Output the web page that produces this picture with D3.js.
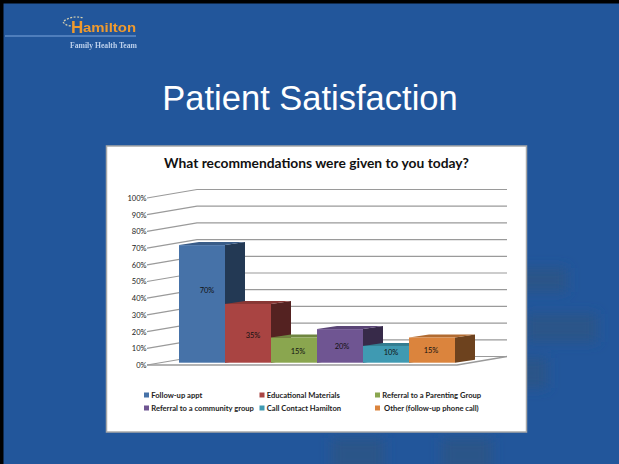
<!DOCTYPE html>
<meta charset="utf-8">
<head>
  <!-- Load d3.js -->
  <script src="https://d3js.org/d3.v7.min.js"></script>
  <style>
    html, body { margin: 0; padding: 0; background: #22569b; }
    svg { display: block; }
  </style>
</head>
<body>
<div id="my_dataviz"></div>
<script>
// chart data
var categories = ["Follow-up appt", "Educational Materials", "Referral to a Parenting Group",
                  "Referral to a community group", "Call Contact Hamilton", "Other (follow-up phone call)"];
var values = [70, 35, 15, 20, 10, 15];
var tickValues = [0, 10, 20, 30, 40, 50, 60, 70, 80, 90, 100];
var colors = ["#4672a8", "#a94442", "#8aa64f", "#6f5592", "#3f9ab2", "#db843d"];
var chartTitle = "What recommendations were given to you today?";
var slideTitle = "Patient Satisfaction";

var width = 619, height = 464;

var svg = d3.select("#my_dataviz")
  .append("svg")
    .attr("width", width)
    .attr("height", height);

var defs = svg.append("defs");
defs.append("filter").attr("id", "soft").append("feGaussianBlur").attr("stdDeviation", 6);
defs.append("filter").attr("id", "logoBlur").append("feGaussianBlur").attr("stdDeviation", 0.45);

// slide background
svg.append("rect").attr("width", width).attr("height", height).attr("fill", "#22569b");

// faint watermark behind the card
var wm = svg.append("g").attr("filter", "url(#soft)").attr("fill", "#2a5488");
wm.append("rect").attr("x", 515).attr("y", 268).attr("width", 52).attr("height", 24);
wm.append("rect").attr("x", 525).attr("y", 314).attr("width", 72).attr("height", 28);
wm.append("rect").attr("x", 515).attr("y", 358).attr("width", 32).attr("height", 30);
wm.append("rect").attr("x", 332).attr("y", 438).attr("width", 52).attr("height", 34);
wm.append("rect").attr("x", 442).attr("y", 438).attr("width", 50).attr("height", 34);

// black edge of the screenshot
svg.append("rect").attr("width", width).attr("height", 3.5).attr("fill", "#000");
svg.append("rect").attr("width", 3.5).attr("height", height).attr("fill", "#000");

// logo
var logo = svg.append("g").attr("filter", "url(#logoBlur)");
logo.append("line").attr("x1", 5).attr("x2", 136).attr("y1", 36).attr("y2", 36)
  .attr("stroke", "#7ea6dd").attr("stroke-width", 1.2);
logo.append("text").attr("x", 71).attr("y", 33)
  .attr("font-family", "Liberation Sans").attr("font-weight", "bold").attr("font-size", 17)
  .attr("fill", "#ef9a2e").text("H");
logo.append("text").attr("x", 83).attr("y", 32)
  .attr("font-family", "Liberation Sans").attr("font-weight", "bold").attr("font-size", 12.5)
  .attr("textLength", 53).attr("lengthAdjust", "spacingAndGlyphs").attr("fill", "#ef9a2e").text("amilton");
logo.append("text").attr("x", 70).attr("y", 47.5)
  .attr("font-family", "Liberation Serif").attr("font-weight", "bold").attr("font-size", 8.5)
  .attr("textLength", 67).attr("lengthAdjust", "spacingAndGlyphs").attr("fill", "#bcd0ec").text("Family Health Team");
logo.append("path").attr("d", "M64 21 Q72 15 84 18 M63 22 Q66 26 72 26")
  .attr("fill", "none").attr("stroke", "#d9d2b0").attr("stroke-width", 1.2).attr("stroke-dasharray", "2 1.5");

svg.append("text").attr("x", 310).attr("y", 110).attr("text-anchor", "middle")
  .attr("font-family", "Liberation Sans").attr("font-size", 34.5).attr("fill", "#fff")
  .text(slideTitle);

// white chart card
svg.append("rect").attr("x", 106.5).attr("y", 146).attr("width", 420).attr("height", 286)
  .attr("fill", "#fff").attr("stroke", "#a8a8a8").attr("stroke-width", 1.5);

svg.append("text").attr("x", 316.5).attr("y", 167.5).attr("text-anchor", "middle")
  .attr("font-family", "Lato").attr("font-weight", "bold").attr("font-size", 13.8).attr("fill", "#111")
  .text(chartTitle);

// 3D frame: front plane, and the back wall pushed by wall depth
var wallDx = 50, wallDy = -8.5;
var frontLeft = 147, frontRight = 457, floorY = 365;
var y = d3.scaleLinear().domain([0, 100]).range([floorY, 198]);

// gridlines on the back wall and the side wall
var grid = svg.append("g").attr("stroke", "#9a9a9a").attr("stroke-width", 1.2).attr("fill", "none");
grid.selectAll("path").data(tickValues).enter().append("path")
  .attr("d", function(d) {
    return "M" + frontLeft + "," + y(d) + "L" + (frontLeft + wallDx) + "," + (y(d) + wallDy) +
           "L" + (frontRight + wallDx) + "," + (y(d) + wallDy);
  });
// floor edges
grid.append("path")
  .attr("d", "M" + frontLeft + "," + floorY + "L" + frontRight + "," + floorY +
             "L" + (frontRight + wallDx) + "," + (floorY + wallDy))
  .attr("stroke-width", 1.6);

var yAxis = d3.axisLeft(y).tickValues(tickValues).tickSize(0).tickPadding(0)
  .tickFormat(function(d) { return d + "%"; });
var axisG = svg.append("g").attr("transform", "translate(146.5,0)").call(yAxis);
axisG.select(".domain").remove();
axisG.selectAll("text").attr("font-family", "Lato").attr("font-size", 7.5).attr("fill", "#222");

// bars sit slightly in from the floor edge
var barBase = 362.7, barDx = 20, barDy = -3;
var yBar = d3.scaleLinear().domain([0, 100]).range([barBase, barBase - 168]);
var x = d3.scaleBand().domain(categories).range([179, 455]);

var bars = svg.selectAll(".bar").data(categories).enter().append("g").attr("class", "bar");

bars.append("path") // side
  .attr("fill", function(d, i) { return d3.rgb(colors[i]).darker(1.95); })
  .attr("d", function(d, i) {
    var r = x(d) + x.bandwidth(), t = yBar(values[i]);
    return "M" + r + "," + t + "L" + (r + barDx) + "," + (t + barDy) +
           "L" + (r + barDx) + "," + (barBase + barDy) + "L" + r + "," + barBase + "Z";
  });
bars.append("path") // top
  .attr("fill", function(d, i) { return d3.rgb(colors[i]).darker(0.6); })
  .attr("d", function(d, i) {
    var l = x(d), r = l + x.bandwidth(), t = yBar(values[i]);
    return "M" + l + "," + t + "L" + (l + barDx) + "," + (t + barDy) +
           "L" + (r + barDx) + "," + (t + barDy) + "L" + r + "," + t + "Z";
  });
bars.append("rect") // front
  .attr("x", function(d) { return x(d); })
  .attr("y", function(d, i) { return yBar(values[i]); })
  .attr("width", x.bandwidth())
  .attr("height", function(d, i) { return barBase - yBar(values[i]); })
  .attr("fill", function(d, i) { return colors[i]; });

// data labels were placed by hand in the original, so nudge them the same way
var labelAt = [43, 16, 7, 10, 6, 7.5];
var labelNudge = [5, 5, 4, 2, 5, -1];
svg.selectAll(".lab").data(categories).enter().append("text").attr("class", "lab")
  .attr("x", function(d, i) { return x(d) + x.bandwidth() / 2 + labelNudge[i]; })
  .attr("y", function(d, i) { return yBar(labelAt[i]); })
  .attr("dy", ".35em").attr("text-anchor", "middle")
  .attr("font-family", "Lato").attr("font-size", 7.5).attr("fill", "#111")
  .text(function(d, i) { return values[i] + "%"; });

// legend, 3 columns by 2 rows
var legX = d3.scalePoint().domain([0, 1, 2]).range([144, 375]);
var legY = d3.scalePoint().domain([0, 1]).range([395, 408]);
var leg = svg.selectAll(".leg").data(categories).enter().append("g").attr("class", "leg")
  .attr("transform", function(d, i) { return "translate(" + legX(i % 3) + "," + legY(Math.floor(i / 3)) + ")"; });
leg.append("rect").attr("y", -2.5).attr("width", 5).attr("height", 5)
  .attr("fill", function(d, i) { return colors[i]; });
leg.append("text").attr("x", function(d, i) { return i == 5 ? 9 : 7.3; }).attr("dy", ".35em")
  .attr("font-family", "Lato").attr("font-weight", "bold").attr("font-size", 7.6).attr("fill", "#222")
  .text(function(d) { return d; });
</script>
</body>
